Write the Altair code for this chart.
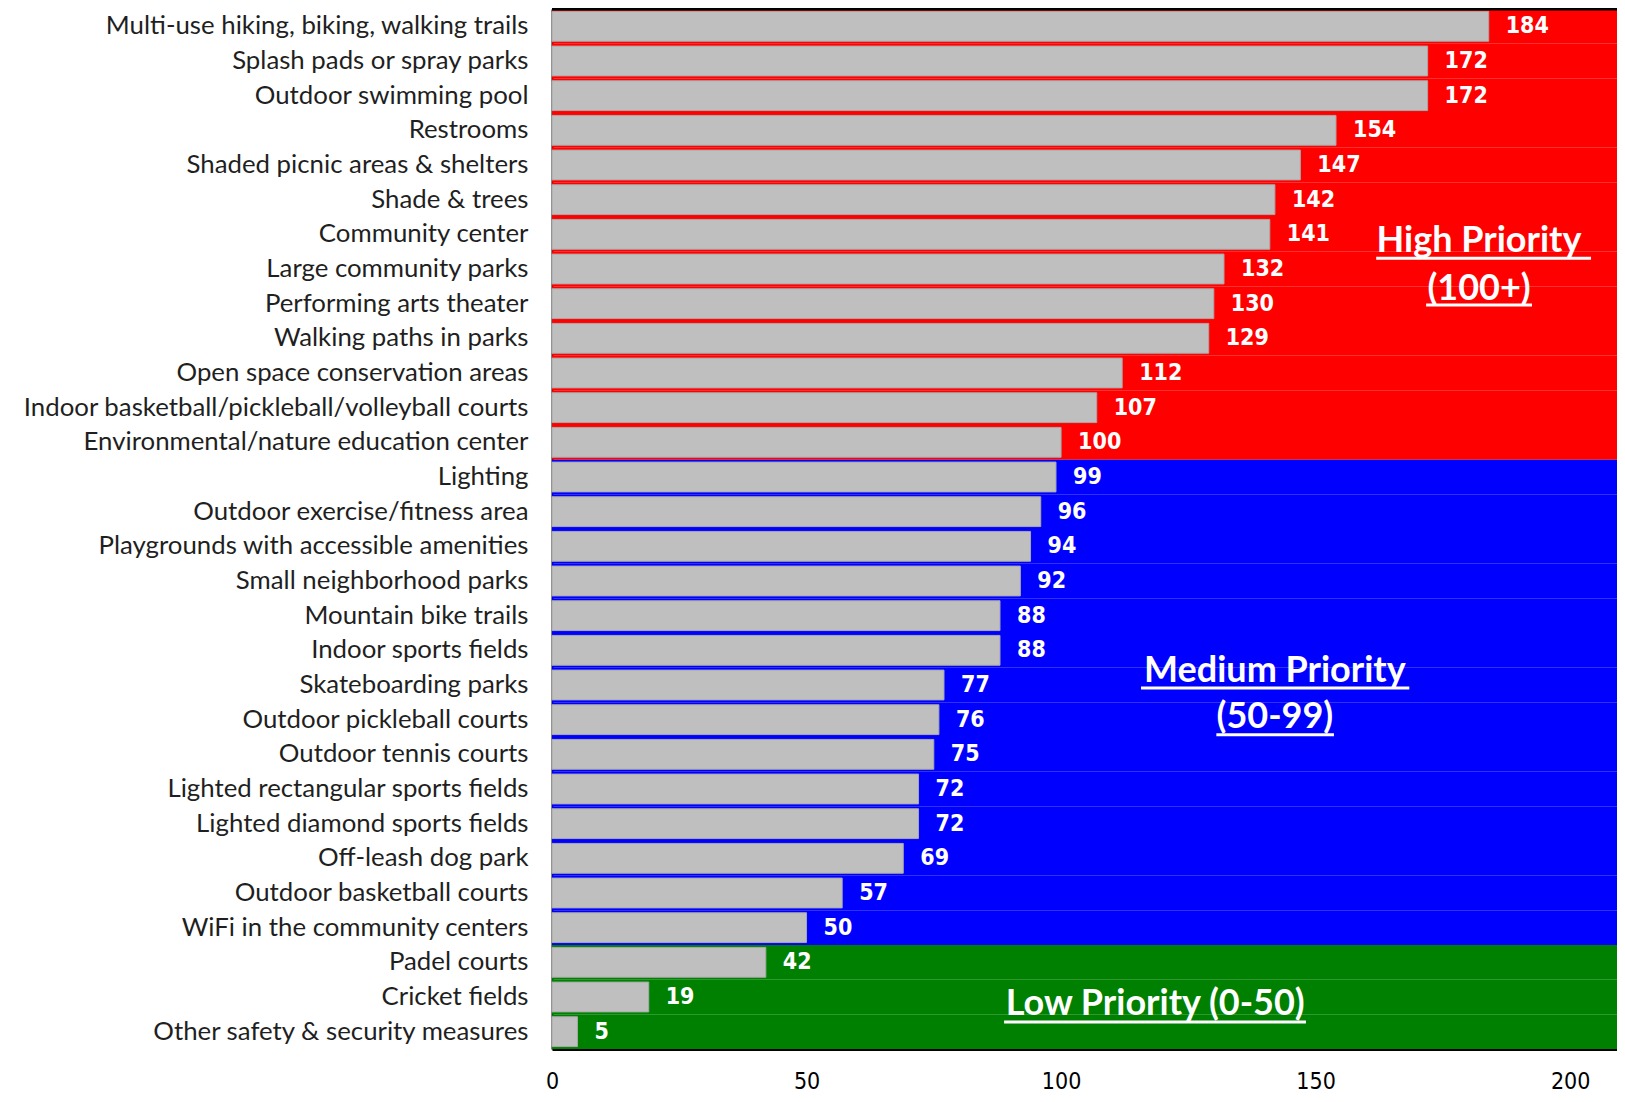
import altair as alt
import pandas as pd

categories = [
    "Multi-use hiking, biking, walking trails",
    "Splash pads or spray parks",
    "Outdoor swimming pool",
    "Restrooms",
    "Shaded picnic areas & shelters",
    "Shade & trees",
    "Community center",
    "Large community parks",
    "Performing arts theater",
    "Walking paths in parks",
    "Open space conservation areas",
    "Indoor basketball/pickleball/volleyball courts",
    "Environmental/nature education center",
    "Lighting",
    "Outdoor exercise/fitness area",
    "Playgrounds with accessible amenities",
    "Small neighborhood parks",
    "Mountain bike trails",
    "Indoor sports fields",
    "Skateboarding parks",
    "Outdoor pickleball courts",
    "Outdoor tennis courts",
    "Lighted rectangular sports fields",
    "Lighted diamond sports fields",
    "Off-leash dog park",
    "Outdoor basketball courts",
    "WiFi in the community centers",
    "Padel courts",
    "Cricket fields",
    "Other safety & security measures",
]
values = [184, 172, 172, 154, 147, 142, 141, 132, 130, 129, 112, 107, 100,
          99, 96, 94, 92, 88, 88, 77, 76, 75, 72, 72, 69, 57, 50,
          42, 19, 5]
priority_names = ["High", "Medium", "Low"]
priority_colors = ["#FF0000", "#0000FF", "#008000"]
x_ticks = [0, 50, 100, 150, 200]
X_MAX = 209.2


def priority(v):
    if v >= 100:
        return "High"
    if v >= 50:
        return "Medium"
    return "Low"


df = pd.DataFrame({
    "category": categories,
    "value": values,
    "priority": [priority(v) for v in values],
})

NARROW = "'Liberation Sans Narrow', 'DejaVu Sans Condensed', sans-serif"
LABEL_FONT = "Lato, 'Open Sans', sans-serif"

y_enc = alt.Y(
    "category:N",
    sort=categories,
    scale=alt.Scale(paddingInner=0, paddingOuter=0),
    axis=alt.Axis(
        title=None,
        labelFont=LABEL_FONT,
        labelFontSize=25.8,
        labelColor="#1f1f1f",
        labelPadding=24,
        labelLimit=700,
        ticks=False,
        domain=True,
        domainColor="black",
        domainWidth=2,
    ),
)

x_scale = alt.Scale(domain=[0, X_MAX], nice=False, zero=True)

base = alt.Chart(df)

background = base.mark_bar(height={"band": 1}).encode(
    y=y_enc,
    x=alt.X("zero:Q", scale=x_scale, title=None,
            axis=alt.Axis(values=x_ticks, grid=False, ticks=False,
                          labelFont=NARROW, labelFontSize=23,
                          labelColor="black", labelPadding=21,
                          domainColor="black", domainWidth=3, labelFlush=False)),
    x2=alt.datum(X_MAX),
    color=alt.Color("priority:N",
                    scale=alt.Scale(domain=priority_names, range=priority_colors),
                    legend=None),
).transform_calculate(zero="0")

bars = base.mark_bar(height={"band": 0.86}, color="#BFBFBF",
                     stroke="#A8A8A8", strokeWidth=1).encode(
    y=alt.Y("category:N", sort=categories),
    x=alt.X("value:Q", scale=x_scale),
)

labels = base.mark_text(align="left", baseline="middle", dx=17,
                        font=NARROW, fontSize=23, fontWeight="bold",
                        color="white").encode(
    y=alt.Y("category:N", sort=categories),
    x=alt.X("value:Q", scale=x_scale),
    text=alt.Text("value:Q"),
)

ann_style = dict(font=LABEL_FONT, fontWeight="bold", color="white",
                 fontSize=36, align="center", baseline="middle")


def ann_text(text, xc, row, dy):
    return alt.Chart().mark_text(dy=dy, **ann_style).encode(
        x=alt.datum(xc), y=alt.datum(row), text=alt.value(text)
    )


def underline(x0, x1, row, dy):
    return alt.Chart().mark_rule(color="white", strokeWidth=3, yOffset=dy).encode(
        x=alt.datum(x0), x2=alt.datum(x1), y=alt.datum(row)
    )


annotations = [
    ann_text("High Priority", 182.1, "Community center", 7),
    underline(161.9, 204.1, "Community center", 24),
    ann_text("(100+)", 182.1, "Large community parks", 20),
    underline(171.7, 192.5, "Large community parks", 36),
    ann_text("Medium Priority", 142.0, "Skateboarding parks", -14),
    underline(115.7, 168.4, "Skateboarding parks", 3),
    ann_text("(50-99)", 142.0, "Outdoor pickleball courts", -3),
    underline(130.5, 153.6, "Outdoor pickleball courts", 15),
    ann_text("Low Priority (0-50)", 118.5, "Cricket fields", 7),
    underline(88.8, 148.1, "Cricket fields", 25),
]

top_line = alt.Chart().mark_rule(color="black", strokeWidth=3).encode(
    x=alt.value(0), x2=alt.value("width"), y=alt.value(0)
)

chart = alt.layer(background, bars, labels, *annotations, top_line).properties(
    width=1065,
    height=1040,
    autosize=alt.AutoSizeParams(type="none"),
    padding={"left": 544, "top": 1, "right": 0, "bottom": 45},
).configure_view(stroke=None)

chart.save("out.html", embed_options={"renderer": "svg", "actions": False})
